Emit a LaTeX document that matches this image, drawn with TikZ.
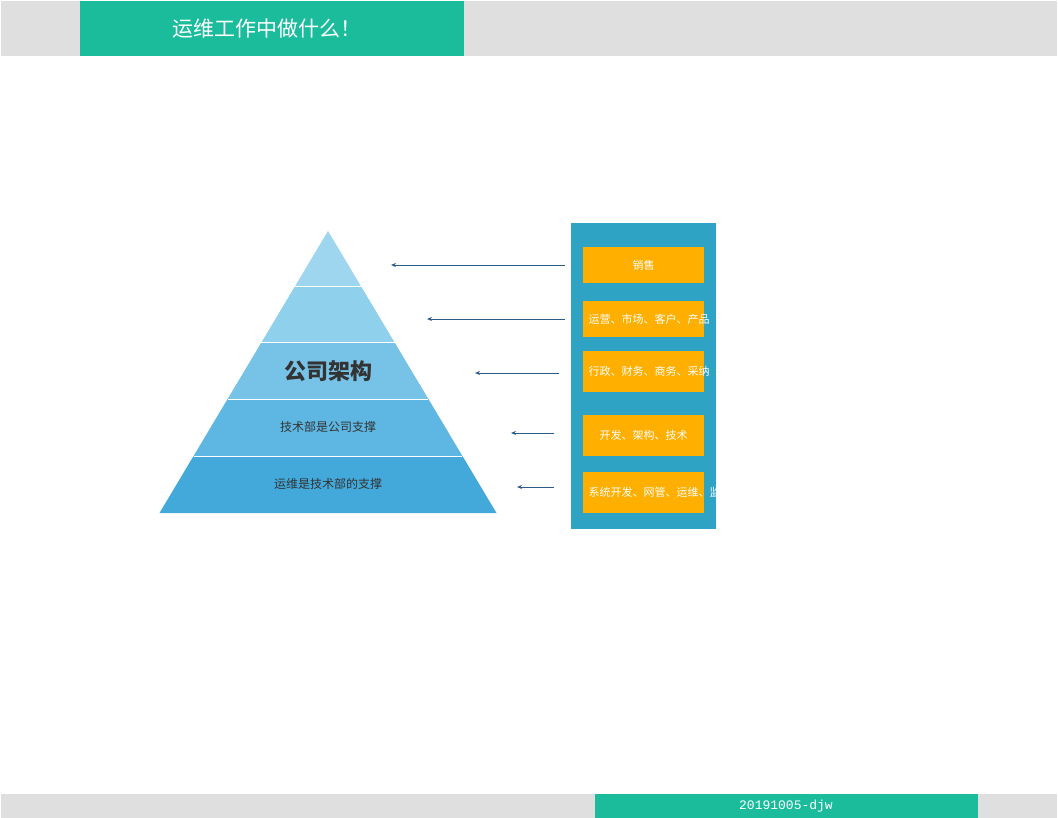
\documentclass[tikz,border=0pt]{standalone}
\usepackage{fontspec}
\usetikzlibrary{arrows.meta}
\newfontfamily\cjk{Noto Sans CJK SC}
\setmonofont{Liberation Mono}
\definecolor{teal1}{HTML}{1ABC9C}
\definecolor{gray1}{HTML}{DFDFDF}
\definecolor{panel}{HTML}{2EA3C3}
\definecolor{orng}{HTML}{FFAF00}
\definecolor{arr}{HTML}{2E5C8A}
\definecolor{txt}{HTML}{333333}
\begin{document}
\begin{tikzpicture}[x=1pt,y=-1pt,
  obox/.style={fill=orng,minimum width=121pt,text width=110pt,align=center,inner sep=0pt,font=\cjk\fontsize{11}{13}\selectfont,text=white},
  conn/.style={draw=arr,line width=0.8pt,-{Stealth[length=5pt,width=4pt]}},
  lay/.style={draw=white,line width=1pt}]
\useasboundingbox (0,0) rectangle (1058,818);
\fill[white] (0,0) rectangle (1058,818);
\fill[gray1] (1,1) rectangle (1057,56);
\fill[teal1] (80,1) rectangle (464,56);
\node[text=white,font=\cjk\fontsize{21}{24}\selectfont] (title) at (267,29) {运维工作中做什么！};
\fill[gray1] (1,794) rectangle (1057,818);
\fill[teal1] (595,794) rectangle (978,818);
\node[text=white,font=\ttfamily\fontsize{13}{15}\selectfont] (foot) at (786,806) {20191005-djw};
% pyramid
\def\hw#1{(#1-231)/282*168.5}
\foreach \ya/\yb/\c in {231/287/9DD6EE,287/343/8FD0EC,343/399/76C3E7,399/456/5DB7E2,456/513/42A9DA}{
  \definecolor{cc}{HTML}{\c}
  \fill[cc] ({328-\hw{\ya}},\ya) -- ({328+\hw{\ya}},\ya) -- ({328+\hw{\yb}},\yb) -- ({328-\hw{\yb}},\yb) -- cycle;
}
\foreach \y in {287,343,399,456}{\draw[lay] ({328-\hw{\y}},\y) -- ({328+\hw{\y}},\y);}
\node[font=\cjk\bfseries\fontsize{22}{24}\selectfont,text=txt] (l3) at (328,371) {公司架构};
\node[font=\cjk\fontsize{12}{14}\selectfont,text=txt] (l4) at (328,427) {技术部是公司支撑};
\node[font=\cjk\fontsize{12}{14}\selectfont,text=txt] (l5) at (328,484) {运维是技术部的支撑};
% panel
\fill[panel] (571,223) rectangle (716,529);
\node[obox,minimum height=36pt] (b1) at (643.5,265) {销售};
\node[obox,minimum height=36pt] (b2) at (643.5,319) {运营、市场、客户、产品};
\node[obox,minimum height=41pt] (b3) at (643.5,371.5) {行政、财务、商务、采纳};
\node[obox,minimum height=41pt] (b4) at (643.5,435.5) {开发、架构、技术};
\node[obox,minimum height=41pt] (b5) at (643.5,492.5) {系统开发、网管、运维、监控};
\coordinate (s1) at (565,265); \coordinate (e1) at (391,265);
\coordinate (s2) at (565,319); \coordinate (e2) at (427,319);
\coordinate (s3) at (559,373); \coordinate (e3) at (475,373);
\coordinate (s4) at (554,433); \coordinate (e4) at (511,433);
\coordinate (s5) at (554,487); \coordinate (e5) at (517,487);
\foreach \i in {1,...,5}{\draw[conn] (s\i) -- (e\i);}
\end{tikzpicture}
\end{document}
